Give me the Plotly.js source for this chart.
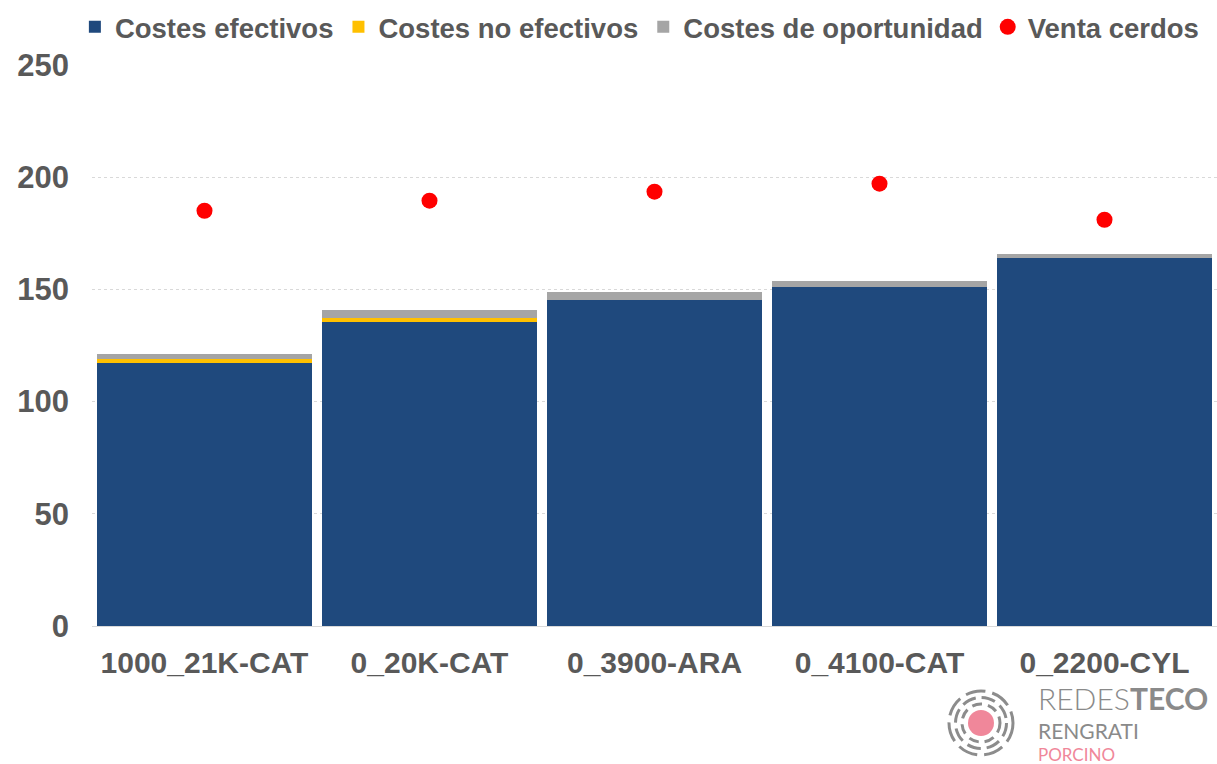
<!DOCTYPE html>
<html><head><meta charset="utf-8">
<script src="https://cdn.plot.ly/plotly-3.0.1.min.js"></script>
<style>body{margin:0;background:#fff}#chart{width:1217px;height:764px}</style>
</head><body><div id="chart"></div>
<script>
const categories = ["1000_21K-CAT", "0_20K-CAT", "0_3900-ARA", "0_4100-CAT", "0_2200-CYL"];
const costesEfectivos = [117.1, 135.4, 145.1, 150.9, 164.0];
const costesNoEfectivos = [2.0, 1.9, 0.2, 0.1, 0.1];
const costesOportunidad = [2.2, 3.3, 3.3, 2.8, 1.7];
const ventaCerdos = [185.0, 189.5, 193.5, 197.1, 181.0];

const font = "Liberation Sans, Arial, sans-serif";
const txt = "#595959";

const traces = [
  {type:"bar", name:"Costes efectivos", x:categories, y:costesEfectivos, marker:{color:"#1f497d"}},
  {type:"bar", name:"Costes no efectivos", x:categories, y:costesNoEfectivos, marker:{color:"#ffc000"}},
  {type:"bar", name:"Costes de oportunidad", x:categories, y:costesOportunidad, marker:{color:"#a5a5a5"}},
  {type:"scatter", mode:"markers", name:"Venta cerdos", x:categories, y:ventaCerdos, marker:{color:"#ff0000", size:16}}
];

const ax = (981-92)/1125, ay = (626-723)/562;
function ring(r, w, d) {
  return {type:"circle", xref:"paper", yref:"paper", xsizemode:"pixel", ysizemode:"pixel",
    xanchor:ax, yanchor:ay, x0:-r, x1:r, y0:-r, y1:r,
    line:{color:"#8c8c8c", width:w, dash:d}, fillcolor:"rgba(0,0,0,0)"};
}
const shapes = [
  ring(19, 3, "10px,6px"), ring(25.5, 3, "14px,6px"), ring(32, 3, "20px,7px"),
  {type:"circle", xref:"paper", yref:"paper", xsizemode:"pixel", ysizemode:"pixel",
    xanchor:ax, yanchor:ay, x0:-13, x1:13, y0:-13, y1:13,
    line:{width:0}, fillcolor:"#f0879a"}
];

const logoFont = "Lato, Open Sans, sans-serif";
const layout = {
  width:1217, height:764,
  margin:{l:92, r:0, t:64, b:138},
  paper_bgcolor:"#fff", plot_bgcolor:"#fff",
  barmode:"stack", bargap:0.046,
  font:{family:font, color:txt},
  xaxis:{tickfont:{size:30, weight:"bold", color:txt, family:font}, showline:true, linecolor:"#d9d9d9", linewidth:1,
    ticks:"", ticklabelstandoff:10, fixedrange:true},
  yaxis:{range:[0,250.4], tickvals:[0,50,100,150,200,250], tickfont:{size:31, weight:"bold", color:txt, family:font},
    showgrid:true, gridcolor:"#d9d9d9", griddash:"3px,3px", gridwidth:1, zeroline:false, ticks:"", ticklen:0,
    ticklabelstandoff:22, automargin:false},
  legend:{orientation:"h", x:0.487, xanchor:"center", y:1.066, yanchor:"middle",
    font:{size:27.5, weight:"bold", color:txt, family:font}, traceorder:"normal", itemwidth:30},
  showlegend:true,
  shapes:shapes,
  annotations:[
    {xref:"paper", yref:"paper", x:(1037-92)/1125, y:(626-698)/562, xanchor:"left", yanchor:"middle", showarrow:false,
      text:"REDES<b>TECO</b>", font:{size:30, color:"#8a8a8a", family:logoFont, weight:300}, borderpad:0},
    {xref:"paper", yref:"paper", x:(1037-92)/1125, y:(626-730)/562, xanchor:"left", yanchor:"middle", showarrow:false,
      text:"RENGRATI", font:{size:21, color:"#8a8a8a", family:logoFont}, borderpad:0},
    {xref:"paper", yref:"paper", x:(1037-92)/1125, y:(626-754)/562, xanchor:"left", yanchor:"middle", showarrow:false,
      text:"PORCINO", font:{size:17, color:"#f0879a", family:logoFont}, borderpad:0}
  ]
};
Plotly.newPlot("chart", traces, layout, {displayModeBar:false, staticPlot:true});
</script></body></html>
